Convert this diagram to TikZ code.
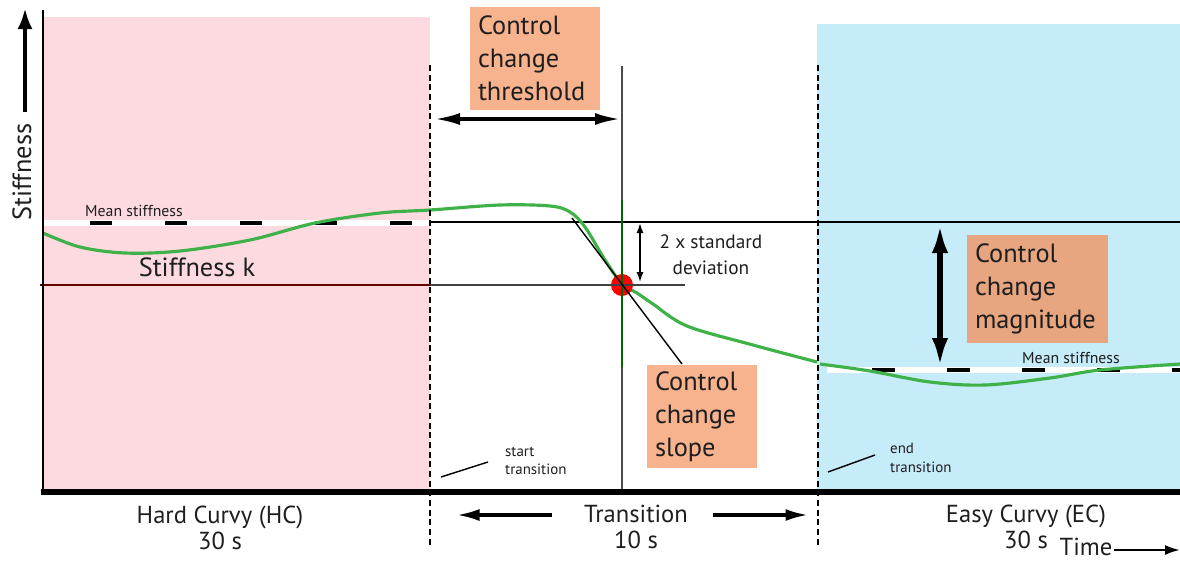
\documentclass[tikz,border=0pt]{standalone}
\usepackage{fontspec}
\setmainfont{PT Sans}
\usetikzlibrary{arrows.meta}
\definecolor{hcpink}{RGB}{253,218,224}
\definecolor{ecblue}{RGB}{198,235,249}
\definecolor{boxorange}{RGB}{247,178,142}
\definecolor{boxdark}{RGB}{232,166,128}
\definecolor{curvegreen}{RGB}{62,178,72}
\definecolor{txt}{RGB}{30,30,30}
\tikzset{
  infobox/.style={fill=boxorange,text=txt,inner xsep=0.16cm,inner ysep=0pt,align=left,font=\fontsize{15}{18.7}\selectfont},
  biglbl/.style={text=txt,align=center,font=\fontsize{14}{15}\selectfont},
  midlbl/.style={text=txt,align=center,font=\fontsize{11}{15}\selectfont},
  smalllbl/.style={text=txt,align=left,font=\fontsize{8.5}{10.5}\selectfont},
  meanlbl/.style={text=txt,font=\fontsize{9}{10}\selectfont},
  bound/.style={line width=1.1pt,dash pattern=on 3.5pt off 2pt},
  guide/.style={line width=0.6pt},
  meandash/.style={line width=2.3pt,black},
  wide/.style={line width=1.8pt,{Latex[length=0.5cm,width=0.24cm]}-{Latex[length=0.5cm,width=0.24cm]}},
  onehead/.style={line width=1.8pt,-{Latex[length=0.45cm,width=0.24cm]}}
}

\begin{document}
\begin{tikzpicture}[x=0.02cm,y=-0.02cm]
\useasboundingbox (0,0) rectangle (1180,562);
% regions
\fill[hcpink] (43,17) rectangle (430,490);
\fill[ecblue] (817,24) rectangle (1180,490);

% mean stiffness strips
\draw[white,line width=3pt] (43,223) -- (430,223);
\foreach \x in {90,165,240,315,390} \draw[meandash] (\x,223) -- ++(22,0);
\draw[white,line width=3pt] (827,370) -- (1180,370);
\foreach \x in {872,947,1022,1097} \draw[meandash] (\x,370) -- ++(23,0);
\draw[meandash] (1172,370) -- (1180,370);

% reference lines
\draw[guide] (430,222) -- (1180,222);
\draw[guide,black!75] (40,285) -- (685,285);
\draw[guide,red!40!black] (40,285) -- (430,285);

% stiffness curve
\draw[curvegreen,line width=1.8pt] plot[smooth,tension=0.55] coordinates {
  (43,233) (80,247) (125,253) (180,251) (250,240) (315,223) (380,213) (430,210)
  (500,205) (550,206) (570,212) (585,227) (605,260) (622,284) (637,293) (653,304)
  (687,326) (753,345) (817,362)};
\draw[curvegreen,line width=1.8pt] plot[smooth,tension=0.55] coordinates {
  (820,364) (870,371) (930,382) (985,385) (1050,378) (1100,370) (1180,364)};

% crossing point
\node[circle,fill=red,minimum size=0.44cm,inner sep=0pt] (cross) at (622,285) {};
\draw[guide,black!70] (622,66) -- (622,492);
\draw[guide,green!40!black] (622,200) -- (622,367);
\draw[guide,black!75] (600,285) -- (645,285);

% slope tangent
\coordinate (sl1) at (572,218);
\coordinate (sl2) at (682,364);
\draw[guide,line width=0.8pt] (sl1) -- (sl2);

% axes
\draw[line width=1.2pt] (43,10) -- (43,492);
\draw[line width=3.4pt] (41,492) -- (1180,492);
\draw[bound] (430,65) -- (430,546);
\draw[bound] (818,65) -- (818,546);

% boxes
\node[infobox,text width=2.28cm,minimum height=2.06cm] (thresh) at (535,58.5) {Control\\change\\threshold};
\node[infobox,text width=1.88cm,minimum height=2.06cm] (slopebox) at (702,416.5) {Control\\change\\slope};
\node[infobox,fill=boxdark,text width=2.5cm,minimum height=2.16cm] (magbox) at (1037.5,289) {Control\\change\\magnitude};

% arrows
\coordinate (thrL) at (435,119);
\coordinate (thrR) at (620,119);
\draw[wide] (thrL) -- (thrR);
\coordinate (sdT) at (640,223);
\coordinate (sdB) at (640,282);
\draw[line width=0.8pt,{Latex[length=0.2cm,width=0.14cm]}-{Latex[length=0.2cm,width=0.14cm]}] (sdT) -- (sdB);
\coordinate (magT) at (940,223);
\coordinate (magB) at (940,368);
\draw[line width=3.5pt,{Latex[length=0.6cm,width=0.32cm]}-{Latex[length=0.6cm,width=0.32cm]}] (magT) -- (magB);

% labels
\node[midlbl] (sd) at (711,255) {2 x standard\\deviation};
\node[biglbl,font=\fontsize{15}{16}\selectfont] (kk) at (197,267) {Stiffness k};
\node[meanlbl] (meanhc) at (134,211) {Mean stiffness};
\node[meanlbl] (meanec) at (1071,358) {Mean stiffness};
\node[smalllbl,anchor=west] (startl) at (499,461) {start\\transition};
\node[smalllbl,anchor=west] (endl) at (884,458) {end\\transition};
\coordinate (st1) at (441,477);
\coordinate (st2) at (488,462);
\draw[line width=0.8pt] (st1) -- (st2);
\coordinate (en1) at (828,472);
\coordinate (en2) at (875,455);
\draw[line width=0.8pt] (en1) -- (en2);

% stiffness axis
\node[biglbl,rotate=90,font=\fontsize{15}{16}\selectfont] (ylbl) at (22,172) {Stiffness};
\coordinate (ya1) at (25,112);
\coordinate (ya2) at (25,8);
\draw[line width=2.8pt,-{Latex[length=0.42cm,width=0.3cm]}] (ya1) -- (ya2);

% phases
\node[biglbl] (hc) at (220,528) {Hard Curvy (HC)\\30 s};
\node[biglbl] (tr) at (636,527) {Transition\\10 s};
\node[biglbl] (ec) at (1026,527) {Easy Curvy (EC)\\30 s};
\coordinate (tl1) at (552,515);
\coordinate (tl2) at (457,515);
\draw[onehead] (tl1) -- (tl2);
\coordinate (tr1) at (713,515);
\coordinate (tr2) at (808,515);
\draw[onehead] (tr1) -- (tr2);
\node[biglbl] (time) at (1086,547) {Time};
\coordinate (ti1) at (1114,550);
\coordinate (ti2) at (1180,550);
\draw[line width=1.3pt,-{Latex[length=0.3cm,width=0.2cm]}] (ti1) -- (ti2);
\end{tikzpicture}
\end{document}
